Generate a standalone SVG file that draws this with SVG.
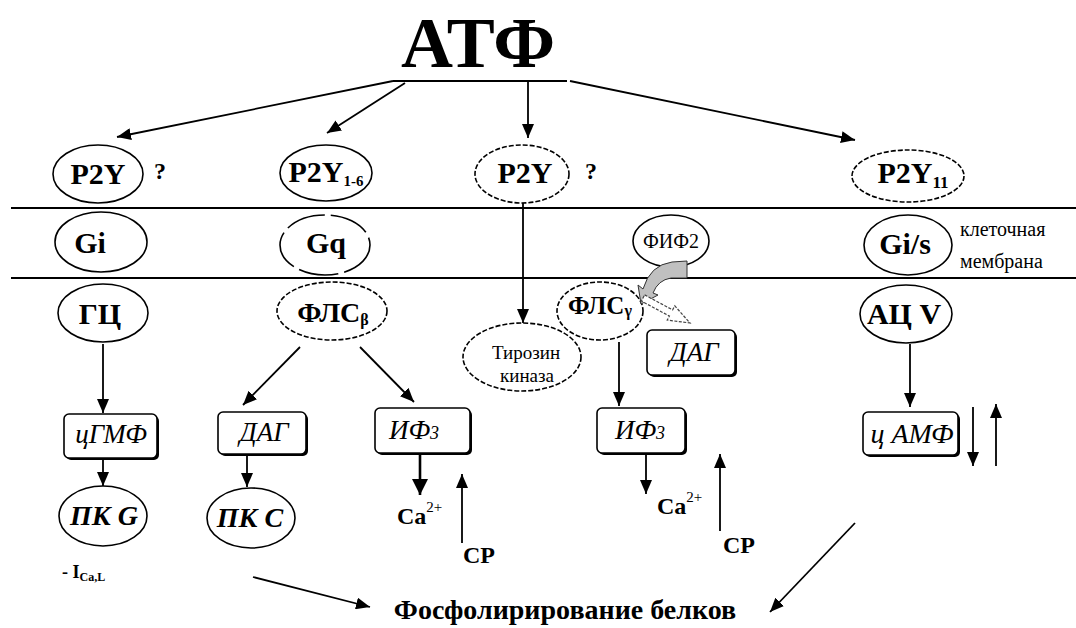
<svg xmlns="http://www.w3.org/2000/svg" width="1076" height="628" viewBox="0 0 1076 628">
<defs>
<marker id="ah" markerUnits="userSpaceOnUse" markerWidth="14" markerHeight="12" refX="14" refY="6" orient="auto" viewBox="0 0 14 12"><path d="M0,0 L14,6 L0,12 z" fill="#000"/></marker>
<marker id="ahb" markerUnits="userSpaceOnUse" markerWidth="16" markerHeight="16" refX="16" refY="8" orient="auto" viewBox="0 0 16 16"><path d="M0,0 L16,8 L0,16 z" fill="#000"/></marker>
</defs>
<rect width="1076" height="628" fill="#fff"/>

<g id="membrane">
<line x1="11" y1="208" x2="1076" y2="208" stroke="#000" stroke-width="2"/>
<line x1="11" y1="278" x2="1076" y2="278" stroke="#000" stroke-width="2"/>
<text font-family="Liberation Serif" font-size="20" x="960" y="236">клеточная</text>
<text font-family="Liberation Serif" font-size="20" x="960" y="268">мембрана</text>
</g>

<g id="atf"><text font-family="Liberation Serif" font-weight="bold" x="478" y="67" font-size="72" text-anchor="middle">АТФ</text></g>

<g id="connectors" stroke="#000" stroke-width="1.8" marker-end="url(#ah)">
<line x1="393" y1="81" x2="567" y2="81" marker-end="none"/>
<line x1="393" y1="81" x2="117" y2="137"/>
<line x1="405" y1="83" x2="327" y2="133"/>
<line x1="528" y1="82" x2="528" y2="138"/>
<line x1="570" y1="81" x2="855" y2="140"/>
<line x1="523" y1="203" x2="523" y2="323"/>
<line x1="103" y1="344" x2="103" y2="413"/>
<line x1="300" y1="347" x2="243" y2="405"/>
<line x1="360" y1="347" x2="414" y2="402"/>
<line x1="619" y1="342" x2="619" y2="406"/>
<line x1="910" y1="344" x2="910" y2="407"/>
<line x1="973" y1="407" x2="973" y2="466"/>
<line x1="996" y1="466" x2="996" y2="404"/>
<line x1="103" y1="459" x2="103" y2="486"/>
<line x1="247" y1="456" x2="247" y2="487"/>
<line x1="420" y1="454" x2="420" y2="495" stroke-width="2.6" marker-end="url(#ahb)"/>
<line x1="462" y1="543" x2="462" y2="474"/>
<line x1="646" y1="454" x2="646" y2="494"/>
<line x1="720" y1="531" x2="720" y2="454"/>
<line x1="253" y1="577" x2="370" y2="607"/>
<line x1="855" y1="523" x2="770" y2="612"/>
</g>

<g id="p2y-left"><ellipse cx="98" cy="174" rx="45" ry="29" fill="#fff" stroke="#000" stroke-width="1.6"/><text font-family="Liberation Serif" font-weight="bold" font-size="30" text-anchor="middle" x="98" y="184">P2Y</text></g>
<text font-family="Liberation Serif" font-weight="bold" font-size="24" text-anchor="middle" x="160" y="179">?</text>
<g id="p2y16"><ellipse cx="326" cy="173" rx="46" ry="28" fill="#fff" stroke="#000" stroke-width="1.6"/><text font-family="Liberation Serif" font-weight="bold" font-size="30" text-anchor="middle" x="326" y="182">P2Y<tspan font-size="15" dy="4">1-6</tspan></text></g>
<g id="p2y-mid"><ellipse cx="522" cy="174" rx="47" ry="29" fill="#fff" stroke="#000" stroke-width="1.6" stroke-dasharray="5 2"/><text font-family="Liberation Serif" font-weight="bold" font-size="30" text-anchor="middle" x="525" y="183">P2Y</text></g>
<text font-family="Liberation Serif" font-weight="bold" font-size="24" text-anchor="middle" x="591" y="179">?</text>
<g id="p2y11"><ellipse cx="908" cy="176" rx="56" ry="26" fill="#fff" stroke="#000" stroke-width="1.6" stroke-dasharray="5 2"/><text font-family="Liberation Serif" font-weight="bold" font-size="30" text-anchor="middle" x="913" y="183">P2Y<tspan font-size="17" dy="5">11</tspan></text></g>

<g id="gi"><ellipse cx="101" cy="242" rx="46" ry="30" fill="#fff" stroke="#000" stroke-width="1.6"/><text font-family="Liberation Serif" font-weight="bold" font-size="30" text-anchor="middle" x="90" y="253">Gi</text></g>
<g id="gq"><ellipse cx="325" cy="245" rx="45" ry="30" fill="#fff" stroke="#000" stroke-width="1.6" stroke-dasharray="40 6"/><text font-family="Liberation Serif" font-weight="bold" font-size="30" text-anchor="middle" x="326" y="253">Gq</text></g>
<g id="fif2"><ellipse cx="671" cy="241" rx="38" ry="26" fill="#fff" stroke="#000" stroke-width="1.6"/><text font-family="Liberation Serif" font-size="20" text-anchor="middle" x="671" y="248">ФИФ2</text></g>
<g id="gis"><ellipse cx="908" cy="245" rx="44" ry="30" fill="#fff" stroke="#000" stroke-width="1.6"/><text font-family="Liberation Serif" font-weight="bold" font-size="30" text-anchor="middle" x="905" y="254">Gi/s</text></g>

<g id="gc"><ellipse cx="103" cy="313" rx="45" ry="29" fill="#fff" stroke="#000" stroke-width="1.6"/><text font-family="Liberation Serif" font-weight="bold" font-size="30" text-anchor="middle" x="100" y="324">ГЦ</text></g>
<g id="flsb"><ellipse cx="332" cy="311" rx="55" ry="29" fill="#fff" stroke="#000" stroke-width="1.6" stroke-dasharray="5 2"/><text font-family="Liberation Serif" font-weight="bold" font-size="28" text-anchor="middle" x="333" y="322">ФЛС<tspan font-size="16" dy="3">β</tspan></text></g>
<g id="tk"><ellipse cx="522" cy="357" rx="59" ry="34" fill="#fff" stroke="#000" stroke-width="1.6" stroke-dasharray="5 2"/><text font-family="Liberation Serif" font-size="19" text-anchor="middle" x="526" y="359">Тирозин</text><text font-family="Liberation Serif" font-size="19" text-anchor="middle" x="527" y="382">киназа</text></g>
<g id="flsg"><ellipse cx="600" cy="311" rx="43" ry="29" fill="#fff" stroke="#000" stroke-width="1.6" stroke-dasharray="5 2"/><text font-family="Liberation Serif" font-weight="bold" font-size="25" text-anchor="middle" x="600" y="314">ФЛС<tspan font-size="16" dy="2">γ</tspan></text></g>
<g id="acv"><ellipse cx="906" cy="314" rx="46" ry="29" fill="#fff" stroke="#000" stroke-width="1.6"/><text font-family="Liberation Serif" font-weight="bold" font-size="30" text-anchor="middle" x="904" y="324">АЦ V</text></g>

<g id="gray-arrow"><path d="M687,261 L687,278 L671,278 Q658,280 653,293 L658,295 L641,304 L638,285 L643,289 Q650,265 672,262 Z" fill="#c0c0c0" stroke="#333" stroke-width="1"/></g>
<g id="hollow-arrow"><polygon points="644.6,294.9 672.6,309.9 674.8,305.9 690,323 667.2,320.1 669.4,316.1 641.4,301.1" fill="#fff" stroke="#444" stroke-width="1.2" stroke-dasharray="3 1.5"/></g>

<g id="cgmf"><rect x="66" y="416" width="93" height="44" rx="5"/><rect x="64" y="414" width="93" height="44" rx="5" fill="#fff" stroke="#000" stroke-width="1.6"/><text font-family="Liberation Serif" font-style="italic" font-size="27" text-anchor="middle" x="111" y="443">цГМФ</text></g>
<g id="dag1"><rect x="220" y="414" width="88" height="42" rx="5"/><rect x="218" y="412" width="88" height="42" rx="5" fill="#fff" stroke="#000" stroke-width="1.6"/><text font-family="Liberation Serif" font-style="italic" font-size="27" text-anchor="middle" x="264" y="441">ДАГ</text></g>
<g id="if3a"><rect x="377" y="410" width="95" height="45" rx="5"/><rect x="375" y="408" width="95" height="45" rx="5" fill="#fff" stroke="#000" stroke-width="1.6"/><text font-family="Liberation Serif" font-style="italic" font-size="27" text-anchor="middle" x="414" y="439">ИФ<tspan font-size="18">3</tspan></text></g>
<g id="dag2"><rect x="649" y="332" width="88" height="45" rx="5"/><rect x="647" y="330" width="88" height="45" rx="5" fill="#fff" stroke="#000" stroke-width="1.6"/><text font-family="Liberation Serif" font-style="italic" font-size="27" text-anchor="middle" x="694" y="361">ДАГ</text></g>
<g id="if3b"><rect x="599" y="410" width="88" height="45" rx="5"/><rect x="597" y="408" width="88" height="45" rx="5" fill="#fff" stroke="#000" stroke-width="1.6"/><text font-family="Liberation Serif" font-style="italic" font-size="27" text-anchor="middle" x="640" y="439">ИФ<tspan font-size="18">3</tspan></text></g>
<g id="camf"><rect x="865" y="414" width="95" height="43" rx="5"/><rect x="863" y="412" width="95" height="43" rx="5" fill="#fff" stroke="#000" stroke-width="1.6"/><text font-family="Liberation Serif" font-style="italic" font-size="28" text-anchor="middle" x="912" y="443">ц АМФ</text></g>
<g id="pkg"><ellipse cx="103" cy="516" rx="44" ry="30" fill="#fff" stroke="#000" stroke-width="1.6"/><text font-family="Liberation Serif" font-style="italic" font-weight="bold" font-size="28" text-anchor="middle" x="104" y="525">ПК G</text></g>
<g id="pkc"><ellipse cx="251" cy="518" rx="44" ry="30" fill="#fff" stroke="#000" stroke-width="1.6"/><text font-family="Liberation Serif" font-style="italic" font-weight="bold" font-size="28" text-anchor="middle" x="250" y="527">ПК С</text></g>

<g id="ca1"><text font-family="Liberation Serif" font-weight="bold" font-size="24" x="397" y="524">Ca<tspan font-size="15" font-weight="normal" dy="-12">2+</tspan></text></g>
<g id="sr1"><text font-family="Liberation Serif" font-weight="bold" font-size="24" x="463" y="563">СР</text></g>
<g id="ca2"><text font-family="Liberation Serif" font-weight="bold" font-size="24" x="657" y="514">Ca<tspan font-size="15" font-weight="normal" dy="-12">2+</tspan></text></g>
<g id="sr2"><text font-family="Liberation Serif" font-weight="bold" font-size="24" x="723" y="553">СР</text></g>
<g id="ical"><text font-family="Liberation Serif" font-weight="bold" font-size="18" x="62" y="578">- I<tspan font-size="12" dy="3">Ca,L</tspan></text></g>
<g id="phos"><text font-family="Liberation Serif" font-weight="bold" font-size="28" text-anchor="middle" x="565" y="619">Фосфолирирование белков</text></g>
</svg>
